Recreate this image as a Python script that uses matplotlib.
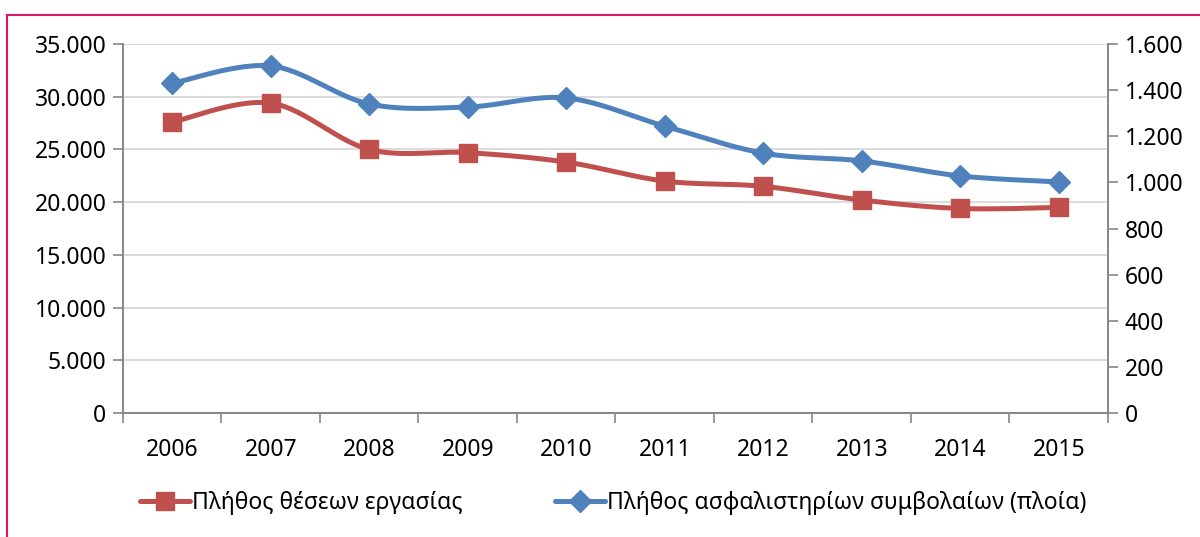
import numpy as np
import matplotlib.pyplot as plt
from matplotlib.lines import Line2D
from matplotlib.ticker import FuncFormatter

years = ['2006', '2007', '2008', '2009', '2010', '2011', '2012', '2013', '2014', '2015']
jobs = [27600, 29400, 25000, 24700, 23800, 22000, 21500, 20200, 19400, 19500]
contracts = [1430, 1505, 1340, 1327, 1366, 1244, 1127, 1093, 1028, 1002]

label_jobs = 'Πλήθος θέσεων εργασίας'
label_contracts = 'Πλήθος ασφαλιστηρίων συμβολαίων (πλοία)'

RED = '#C0504D'
BLUE = '#4F81BD'
AXIS = '#868686'
FS = 16.5

plt.rcParams['font.family'] = ['Noto Sans', 'DejaVu Sans']


def smooth(x, y, n=30):
    # catmull-rom curve through the points, like excel's smoothed line
    x = np.asarray(x, float)
    y = np.asarray(y, float)
    px = np.concatenate([[x[0]], x, [x[-1]]])
    py = np.concatenate([[y[0]], y, [y[-1]]])
    xs, ys = [], []
    t = np.linspace(0, 1, n)
    for i in range(1, len(px) - 2):
        p0, p1, p2, p3 = (np.array([px[j], py[j]]) for j in range(i - 1, i + 3))
        c1 = p1 + (p2 - p0) / 6
        c2 = p2 - (p3 - p1) / 6
        b = ((1 - t) ** 3)[:, None] * p1 + (3 * (1 - t) ** 2 * t)[:, None] * c1 \
            + (3 * (1 - t) * t ** 2)[:, None] * c2 + (t ** 3)[:, None] * p2
        xs.extend(b[:, 0])
        ys.extend(b[:, 1])
    return np.array(xs), np.array(ys)


def dotted(v, pos):
    return '{:,.0f}'.format(v).replace(',', '.')


fig = plt.figure(figsize=(12, 5.37), dpi=100)
ax = fig.add_axes([0.1025, 0.2309, 0.8208, 0.6871])
ax2 = ax.twinx()

xi = np.arange(len(years))
sx, sy = smooth(xi, jobs)
ax.plot(sx, sy, color=RED, lw=3.6, solid_capstyle='round', zorder=3)
ax.plot(xi, jobs, ls='none', marker='s', ms=13, color=RED, zorder=4)

bx, by = smooth(xi, contracts)
ax2.plot(bx, by, color=BLUE, lw=3.6, solid_capstyle='round', zorder=3)
ax2.plot(xi, contracts, ls='none', marker='D', ms=11, color=BLUE, zorder=4)

ax.set_xlim(-0.5, len(years) - 0.5)
ax.set_ylim(0, 35000)
ax2.set_ylim(0, 1600)
ax.set_yticks(np.arange(0, 35001, 5000))
ax2.set_yticks(np.arange(0, 1601, 200))
ax.yaxis.set_major_formatter(FuncFormatter(dotted))
ax2.yaxis.set_major_formatter(FuncFormatter(dotted))

ax.set_xticks(xi)
ax.set_xticklabels(years)
ax.set_xticks(np.arange(-0.5, len(years)), minor=True)
ax.tick_params(axis='x', which='major', length=0, pad=18, labelsize=FS)
ax.tick_params(axis='x', which='minor', length=7, color=AXIS, width=1.2)
ax.tick_params(axis='y', length=7, color=AXIS, width=1.2, labelsize=FS, pad=5)
ax2.tick_params(axis='y', length=7, color=AXIS, width=1.2, labelsize=FS, pad=5)

ax.grid(axis='y', color='#D9D9D9', lw=1.3)
ax.set_axisbelow(True)
for a in (ax, ax2):
    a.spines['top'].set_visible(False)
    for s in ('left', 'right', 'bottom'):
        a.spines[s].set_color(AXIS)
        a.spines[s].set_linewidth(1.2)

handles = [
    Line2D([], [], color=RED, lw=3.6, marker='s', ms=13, solid_capstyle='round'),
    Line2D([], [], color=BLUE, lw=3.6, marker='D', ms=11, solid_capstyle='round'),
]
fig.legend(handles, [label_jobs, label_contracts], loc='center', ncol=2,
           bbox_to_anchor=(0.511, 0.063), frameon=False, fontsize=FS,
           handlelength=2.2, handletextpad=0.1, columnspacing=4.0)

# border around the chart
fig.add_artist(Line2D([7 / 1200, 7 / 1200], [0, 1 - 15 / 537], color='#D6186A', lw=1.5))
fig.add_artist(Line2D([7 / 1200, 1], [1 - 15 / 537, 1 - 15 / 537], color='#D6186A', lw=1.5))

fig.savefig('out.png', dpi=100)
